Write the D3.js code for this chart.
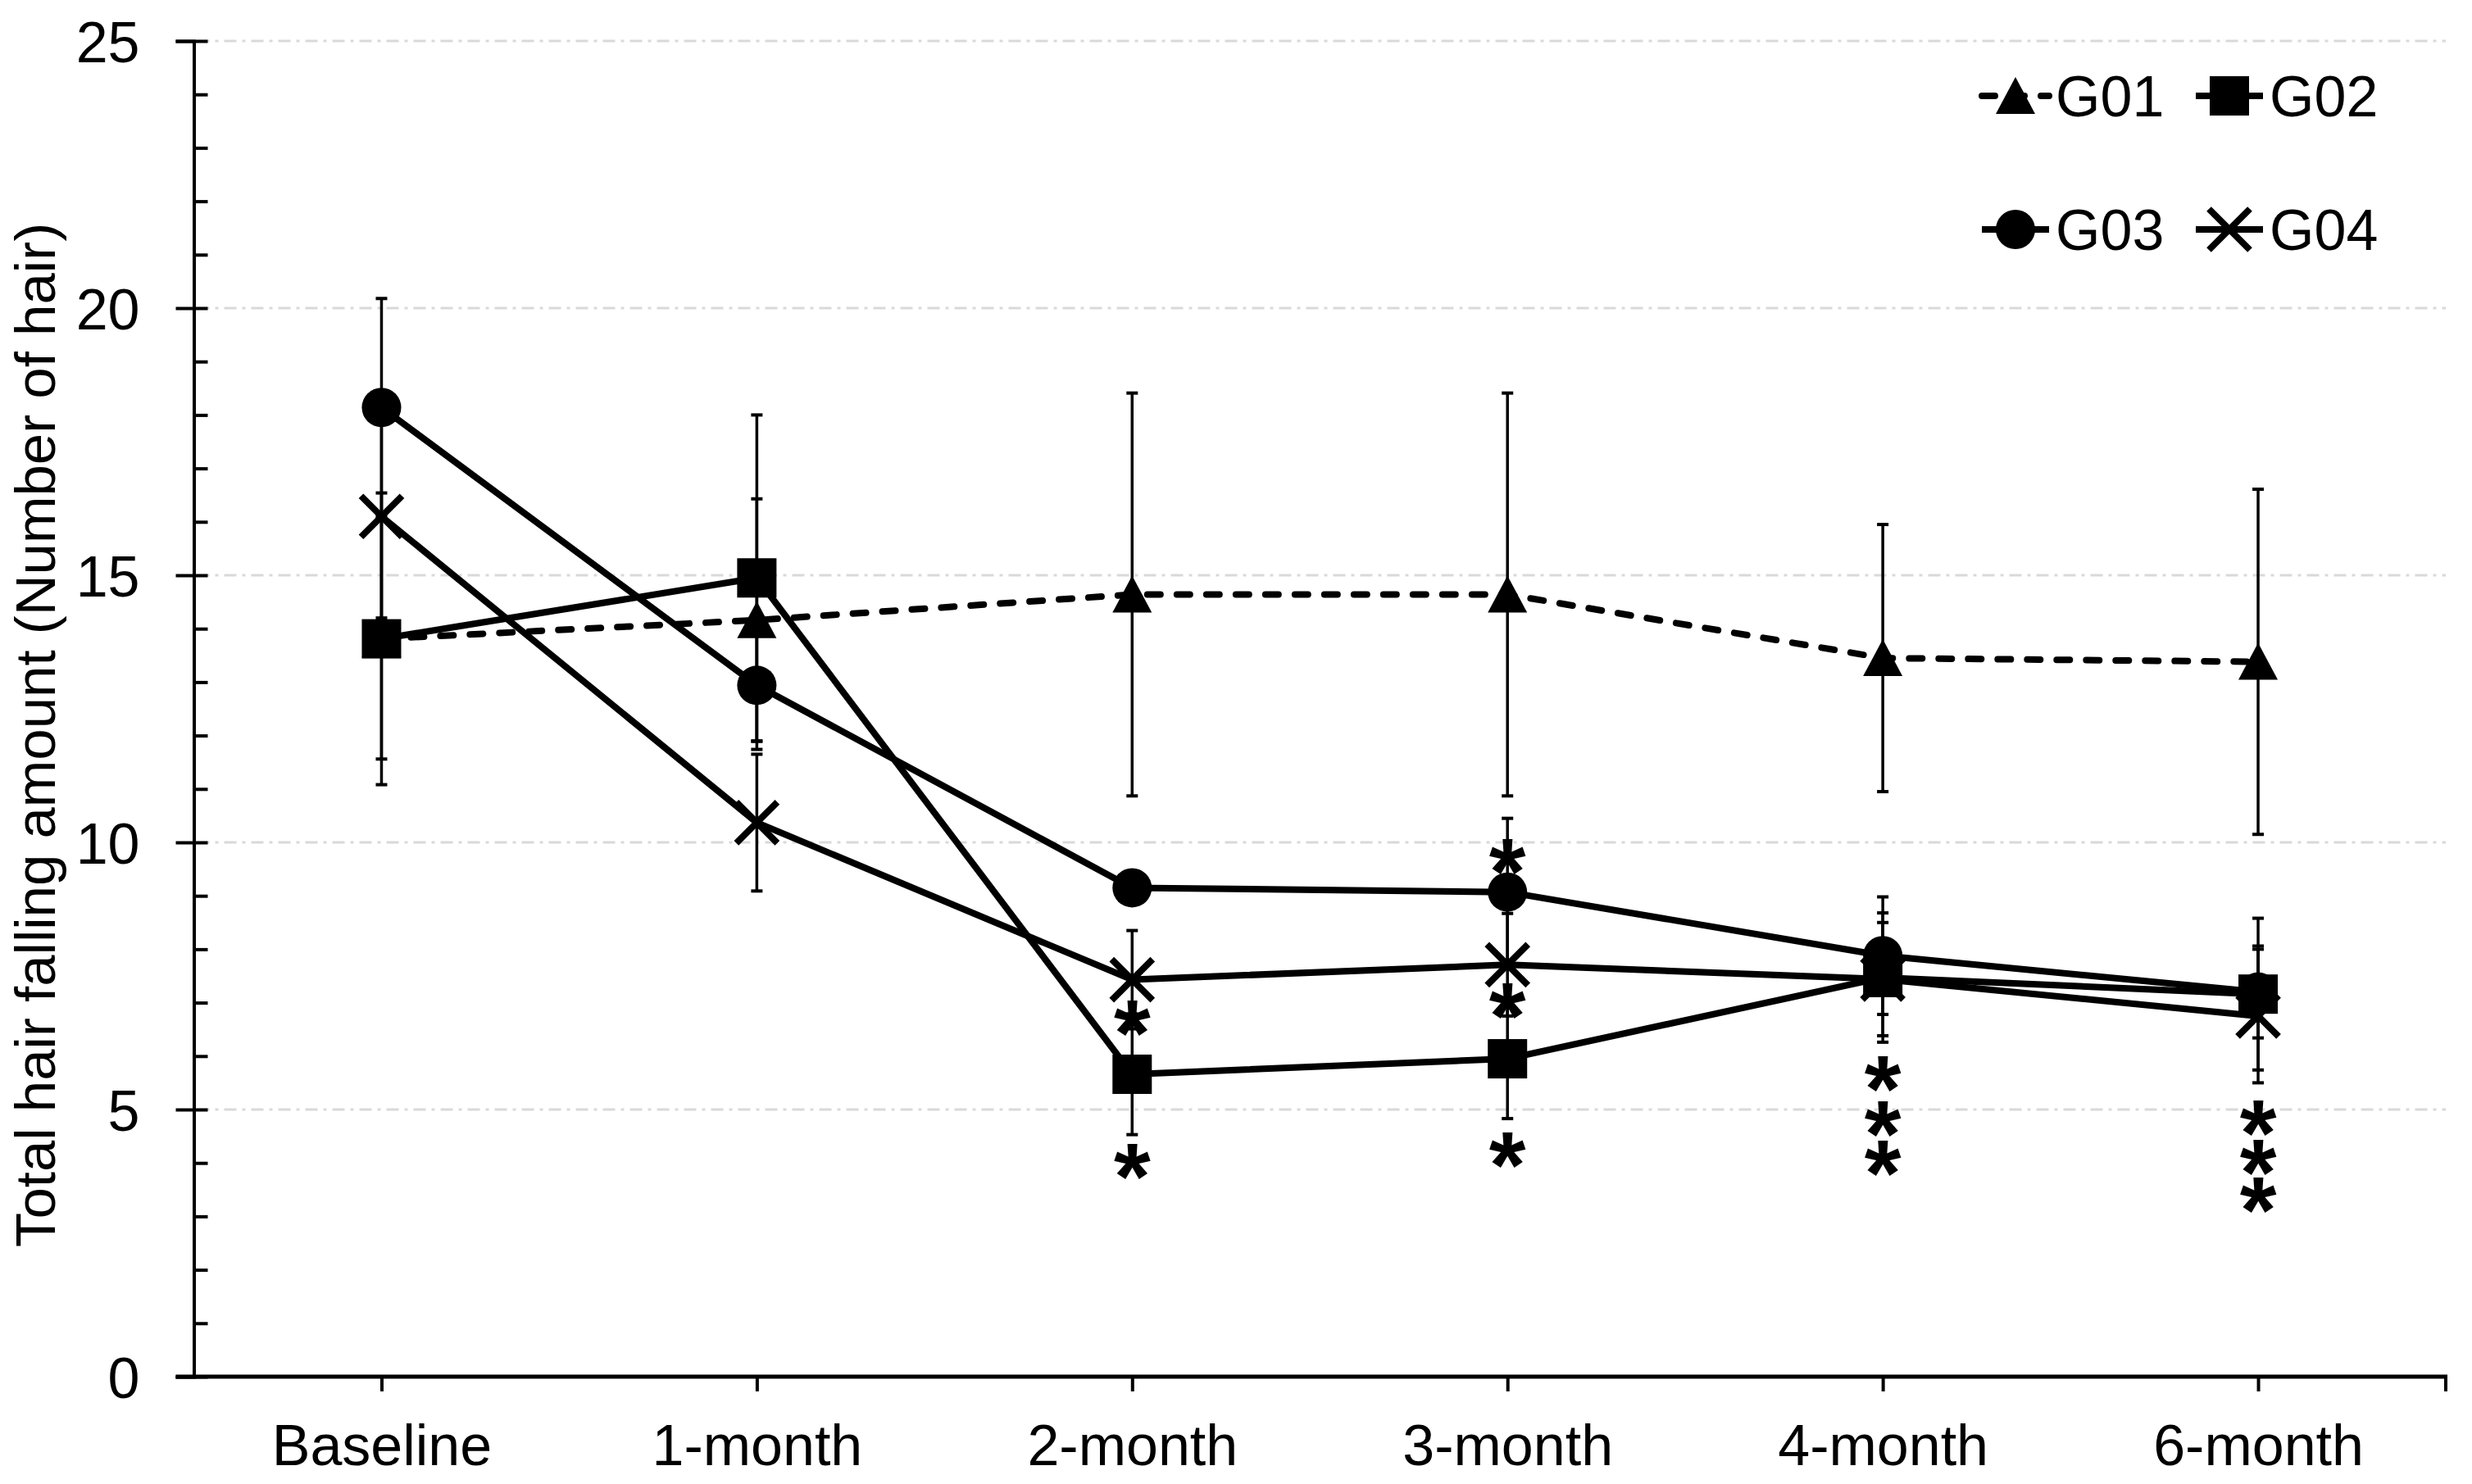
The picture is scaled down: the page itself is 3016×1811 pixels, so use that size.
<!DOCTYPE html>
<html>
<head>
<meta charset="utf-8">
<script src="https://cdn.jsdelivr.net/npm/d3@7"></script>
<style>
  html, body { margin: 0; padding: 0; background: #fff; }
  svg { display: block; }
  text { font-family: "Liberation Sans", Arial, sans-serif; fill: #000; }
</style>
</head>
<body>
<svg id="chart" width="3016" height="1811"></svg>
<script>
// ---------------- data ----------------
const categories = ["Baseline", "1-month", "2-month", "3-month", "4-month", "6-month"];
const seriesNames = ["G01", "G02", "G03", "G04"];
const g01 = [13.81, 14.16, 14.64, 14.64, 13.45, 13.38];
const g02 = [13.81, 14.95, 5.66, 5.95, 7.47, 7.16];
const g03 = [18.14, 12.94, 9.15, 9.07, 7.88, 7.20];
const g04 = [16.10, 10.37, 7.43, 7.71, 7.44, 6.75];
const g01Err = [2.73, 2.27, 3.77, 3.77, 2.50, 3.23];
const g02Err = [2.25, 3.05, 1.13, 1.12, 1.21, 1.42];
const g03Err = [2.04, 1.20, 0.30, 1.38, 1.10, 0.86];
const g04Err = [1.90, 1.28, 0.92, 0.96, 1.06, 1.25];
const yMajorTicks = [0, 5, 10, 15, 20, 25];
// significance asterisks: category and value position
const starCategory = ["2-month", "2-month", "3-month", "3-month", "3-month",
                      "4-month", "4-month", "4-month", "6-month", "6-month", "6-month"];
const starValue = [6.74, 4.05, 9.75, 7.06, 4.26, 5.69, 4.85, 4.11, 4.86, 4.13, 3.42];

const seriesValues = [g01, g02, g03, g04];
const seriesErrors = [g01Err, g02Err, g03Err, g04Err];
const seriesMarker = ["triangle", "square", "circle", "cross"];
const seriesDashed = [true, false, false, false];

// ---------------- layout ----------------
const svg = d3.select("#chart");
const pLeft = 236.5, pRight = 2984, pTop = 50, pBottom = 1680;
const lineW = 8;
const dashPattern = "16,20";

const x = d3.scalePoint().domain(categories).range([pLeft, pRight]).padding(0.5);
const y = d3.scaleLinear().domain([0, 25]).range([pBottom, pTop]);

// grid lines
svg.append("g").selectAll("line")
  .data(yMajorTicks.filter(d => d > 0))
  .join("line")
  .attr("x1", pLeft + 4).attr("x2", pRight)
  .attr("y1", d => y(d)).attr("y2", d => y(d))
  .attr("stroke", "#d9d9d9").attr("stroke-width", 3)
  .attr("stroke-dasharray", "15,7,4,7");

// y axis: major ticks (crossing) + labels
const yAxisG = svg.append("g").attr("transform", `translate(${pLeft},0)`)
  .call(d3.axisLeft(y).tickValues(yMajorTicks).tickSize(22).tickPadding(44).tickFormat(d3.format("d")));
yAxisG.select(".domain").attr("stroke", "#000").attr("stroke-width", 4);
yAxisG.selectAll(".tick line").attr("stroke", "#000").attr("stroke-width", 4);
yAxisG.selectAll(".tick text")
  .style("font-family", '"Liberation Sans", Arial, sans-serif')
  .attr("font-size", 70).attr("fill", "#000").attr("dy", "0.36em");

// y axis minor ticks (inside)
const yMinorG = svg.append("g").attr("transform", `translate(${pLeft},0)`)
  .call(d3.axisRight(y).tickValues(d3.range(0, 26)).tickSize(17).tickFormat(""));
yMinorG.select(".domain").remove();
yMinorG.selectAll(".tick line").attr("stroke", "#000").attr("stroke-width", 4);

// x axis
const xAxisG = svg.append("g").attr("transform", `translate(0,${pBottom})`)
  .call(d3.axisBottom(x).tickSize(18).tickSizeOuter(0).tickPadding(40));
xAxisG.select(".domain").remove();
xAxisG.selectAll(".tick line").attr("stroke", "#000").attr("stroke-width", 4);
xAxisG.selectAll(".tick text")
  .style("font-family", '"Liberation Sans", Arial, sans-serif')
  .attr("font-size", 70).attr("fill", "#000").attr("y", 108).attr("dy", 0);
svg.append("line")
  .attr("x1", pLeft - 22).attr("x2", pRight + 2)
  .attr("y1", pBottom).attr("y2", pBottom)
  .attr("stroke", "#000").attr("stroke-width", 5);
svg.append("line")
  .attr("x1", pRight).attr("x2", pRight)
  .attr("y1", pBottom).attr("y2", pBottom + 18)
  .attr("stroke", "#000").attr("stroke-width", 4);

// y axis title
svg.append("text")
  .attr("transform", `translate(67,${(pTop + pBottom) / 2 + 32}) rotate(-90)`)
  .attr("text-anchor", "middle")
  .attr("font-size", 69)
  .text("Total hair falling amount (Number of hair)");

// ---------------- error bars ----------------
const capHalf = 7;
seriesValues.forEach((vals, si) => {
  const errs = seriesErrors[si];
  const eg = svg.append("g").attr("stroke", "#000").attr("stroke-width", 3.5);
  categories.forEach((c, i) => {
    const cx = x(c), hi = y(vals[i] + errs[i]), lo = y(vals[i] - errs[i]);
    eg.append("line").attr("x1", cx).attr("x2", cx).attr("y1", hi).attr("y2", lo);
    eg.append("line").attr("x1", cx - capHalf).attr("x2", cx + capHalf).attr("y1", hi).attr("y2", hi).attr("stroke-width", 4);
    eg.append("line").attr("x1", cx - capHalf).attr("x2", cx + capHalf).attr("y1", lo).attr("y2", lo).attr("stroke-width", 4);
  });
});

// ---------------- lines & markers ----------------
function drawMarker(g, type, cx, cy) {
  if (type === "triangle") {
    g.append("path").attr("d", `M${cx},${cy - 23}L${cx + 24},${cy + 22}L${cx - 24},${cy + 22}Z`).attr("fill", "#000");
  } else if (type === "square") {
    g.append("rect").attr("x", cx - 24).attr("y", cy - 24).attr("width", 48).attr("height", 48).attr("fill", "#000");
  } else if (type === "circle") {
    g.append("circle").attr("cx", cx).attr("cy", cy).attr("r", 24).attr("fill", "#000");
  } else if (type === "cross") {
    g.append("path").attr("d", `M${cx - 25},${cy - 25}L${cx + 25},${cy + 25}M${cx - 25},${cy + 25}L${cx + 25},${cy - 25}`)
      .attr("stroke", "#000").attr("stroke-width", lineW).attr("fill", "none");
  }
}

const lineGen = d3.line().x(d => x(d.c)).y(d => y(d.v));
seriesValues.forEach((vals, si) => {
  const pts = categories.map((c, i) => ({ c, v: vals[i] }));
  svg.append("path").datum(pts)
    .attr("d", lineGen)
    .attr("fill", "none").attr("stroke", "#000").attr("stroke-width", lineW)
    .attr("stroke-linecap", seriesDashed[si] ? "round" : "butt")
    .attr("stroke-linejoin", "round")
    .attr("stroke-dasharray", seriesDashed[si] ? dashPattern : null);
});
seriesValues.forEach((vals, si) => {
  const mg = svg.append("g");
  categories.forEach((c, i) => drawMarker(mg, seriesMarker[si], x(c), y(vals[i])));
});

// ---------------- asterisks (one text element per category, stacked tspans) ----------------
const starFont = 115;
const starGroups = d3.groups(starValue.map((v, i) => ({ c: starCategory[i], v })), d => d.c);
svg.append("g").selectAll("text")
  .data(starGroups)
  .join("text")
  .attr("text-anchor", "middle")
  .attr("font-size", starFont)
  .attr("font-weight", "bold")
  .each(function ([c, items]) {
    d3.select(this).selectAll("tspan")
      .data(items)
      .join("tspan")
      .attr("x", d => x(d.c))
      .attr("y", d => y(d.v) + 0.575 * starFont - 7)
      .text("*");
  });

// ---------------- legend ----------------
const legendColX = [2459, 2720];
const legendRowY = [117, 280];
seriesNames.forEach((name, i) => {
  const cx = legendColX[i % 2], cy = legendRowY[Math.floor(i / 2)];
  const lg = svg.append("g");
  lg.append("line").attr("x1", cx - 41).attr("x2", cx + 41).attr("y1", cy).attr("y2", cy)
    .attr("stroke", "#000").attr("stroke-width", lineW)
    .attr("stroke-linecap", seriesDashed[i] ? "round" : "butt")
    .attr("stroke-dasharray", seriesDashed[i] ? dashPattern : null);
  drawMarker(lg, seriesMarker[i], cx, cy);
  lg.append("text").attr("x", cx + 49).attr("y", cy + 25)
    .attr("font-size", 70).text(name);
});
</script>
</body>
</html>
